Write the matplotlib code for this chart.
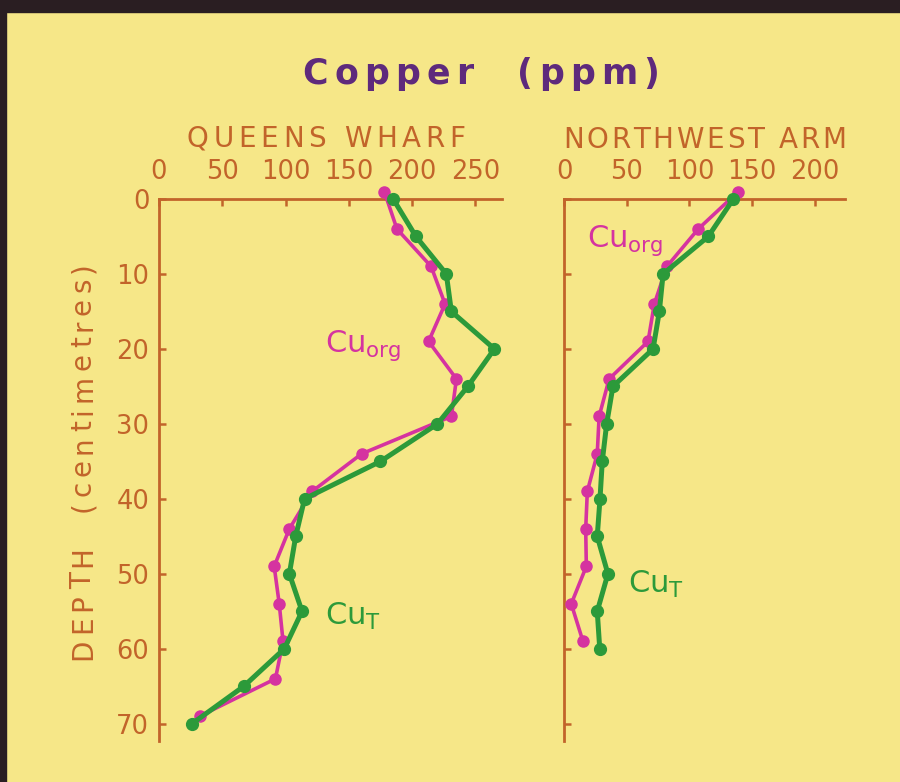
import matplotlib
matplotlib.use('Agg')
import matplotlib.pyplot as plt
from matplotlib.font_manager import FontProperties, findfont
from matplotlib.ft2font import FT2Font
from matplotlib.patches import Rectangle

# ---------------- data ----------------
qw_depth_T = [0, 5, 10, 15, 20, 25, 30, 35, 40, 45, 50, 55, 60, 65, 70]
qw_cu_T = [185, 203, 227, 231, 265, 244, 220, 175, 115, 108, 103, 113, 99, 67, 26]
qw_depth_org = [-1, 4, 9, 14, 19, 24, 29, 34, 39, 44, 49, 54, 59, 64, 69]
qw_cu_org = [178, 188, 215, 226, 213, 235, 231, 160, 121, 103, 91, 95, 98, 92, 32]

nw_depth_T = [0, 5, 10, 15, 20, 25, 30, 35, 40, 45, 50, 55, 60]
nw_cu_T = [135, 115, 79, 76, 71, 39, 34, 30.5, 28.7, 26.5, 35, 26.5, 28.5]
nw_depth_org = [-1, 4, 9, 14, 19, 24, 29, 34, 39, 44, 49, 54, 59]
nw_cu_org = [139, 107, 82, 72, 67, 36, 28, 26.5, 18.6, 17.3, 17.8, 5.8, 15.1]

qw_xticks = [0, 50, 100, 150, 200, 250]
nw_xticks = [0, 50, 100, 150, 200]
depth_ticks = [0, 10, 20, 30, 40, 50, 60, 70]

title = "Copper  (ppm)"
panel_titles = ["QUEENS WHARF", "NORTHWEST ARM"]
ylabel = "DEPTH  (centimetres)"

# ---------------- style ----------------
W, H, DPI = 900, 782, 100
BG = '#F6E788'
AXC = '#C2642A'
PURPLE = '#5E2A7C'
MAG = '#D533A0'
GRN = '#2C9A3A'
DARK = '#2A1E22'
FAM = 'DejaVu Sans'

fig = plt.figure(figsize=(W / DPI, H / DPI), dpi=DPI, facecolor=BG)

# dark frame edges (photo border)
fig.patches.append(Rectangle((0, 1 - 12 / H), 1, 12 / H, transform=fig.transFigure,
                             color=DARK, zorder=0))
fig.patches.append(Rectangle((0, 0), 6 / W, 1, transform=fig.transFigure,
                             color=DARK, zorder=0))


def advances(s, size, weight='normal'):
    fp = FontProperties(family=FAM, size=size, weight=weight)
    font = FT2Font(findfont(fp))
    font.set_size(size, DPI)
    return [font.load_char(ord(c)).linearHoriAdvance / 65536 for c in s]


def spaced_text(cx, cy, s, size, target, color, weight='normal', rotation=0):
    """letter-spaced text; cx, cy in pixels from top-left; cy is baseline."""
    w = advances(s, size, weight)
    gap = (target - sum(w)) / (len(s) - 1)
    pos = -target / 2.0
    for c, wc in zip(s, w):
        if c != ' ':
            if rotation == 0:
                x, y = cx + pos, cy
            else:
                x, y = cx, cy - pos
            fig.text(x / W, 1 - y / H, c, fontsize=size, family=FAM, weight=weight,
                     color=color, ha='left', va='baseline', rotation=rotation,
                     rotation_mode='anchor')
        pos += wc + gap


def make_axes(left, right, top, bottom, xmax):
    ax = fig.add_axes([left / W, 1 - bottom / H, (right - left) / W, (bottom - top) / H])
    ax.set_facecolor('none')
    ax.set_xlim(0, xmax)
    ax.set_ylim(72.3, 0)
    ax.xaxis.tick_top()
    for sp in ['bottom', 'right']:
        ax.spines[sp].set_visible(False)
    for sp in ['top', 'left']:
        ax.spines[sp].set_color(AXC)
        ax.spines[sp].set_linewidth(2.0)
    ax.tick_params(axis='x', direction='in', length=5, width=1.8, pad=10,
                   labelsize=18.5, colors=AXC)
    ax.tick_params(axis='y', direction='in', length=5, width=1.8, pad=7,
                   labelsize=18.5, colors=AXC)
    ax.set_yticks(depth_ticks)
    return ax


axL = make_axes(159, 502, 199, 741, 271)
axL.set_xticks(qw_xticks)
axR = make_axes(564, 845, 199, 741, 224)
axR.set_xticks(nw_xticks)
axR.tick_params(axis='y', labelleft=False)

for ax, dT, vT, dO, vO in [(axL, qw_depth_T, qw_cu_T, qw_depth_org, qw_cu_org),
                           (axR, nw_depth_T, nw_cu_T, nw_depth_org, nw_cu_org)]:
    ax.plot(vO, dO, color=MAG, lw=2.6, marker='o', ms=8, mec=MAG, mfc=MAG,
            clip_on=False, zorder=3)
    ax.plot(vT, dT, color=GRN, lw=3.6, marker='o', ms=8.5, mec=GRN, mfc=GRN,
            clip_on=False, zorder=4)


# series labels
def lab(x, y, txt, color):
    fig.text(x / W, 1 - y / H, txt, fontsize=22, family=FAM, color=color,
             ha='left', va='baseline')


lab(325, 352, r'$\mathregular{Cu_{org}}$', MAG)
lab(325, 625, r'$\mathregular{Cu_{T}}$', GRN)
lab(587, 247, r'$\mathregular{Cu_{org}}$', MAG)
lab(628, 593, r'$\mathregular{Cu_{T}}$', GRN)

# titles
spaced_text(481, 84, title, 25, 357, PURPLE, weight='bold')
spaced_text(326, 147, panel_titles[0], 20, 278, AXC)
spaced_text(704.5, 148, panel_titles[1], 20, 283, AXC)
spaced_text(91, 461, ylabel, 20, 398, AXC, rotation=90)

fig.savefig('out.png', dpi=DPI, facecolor=BG)
